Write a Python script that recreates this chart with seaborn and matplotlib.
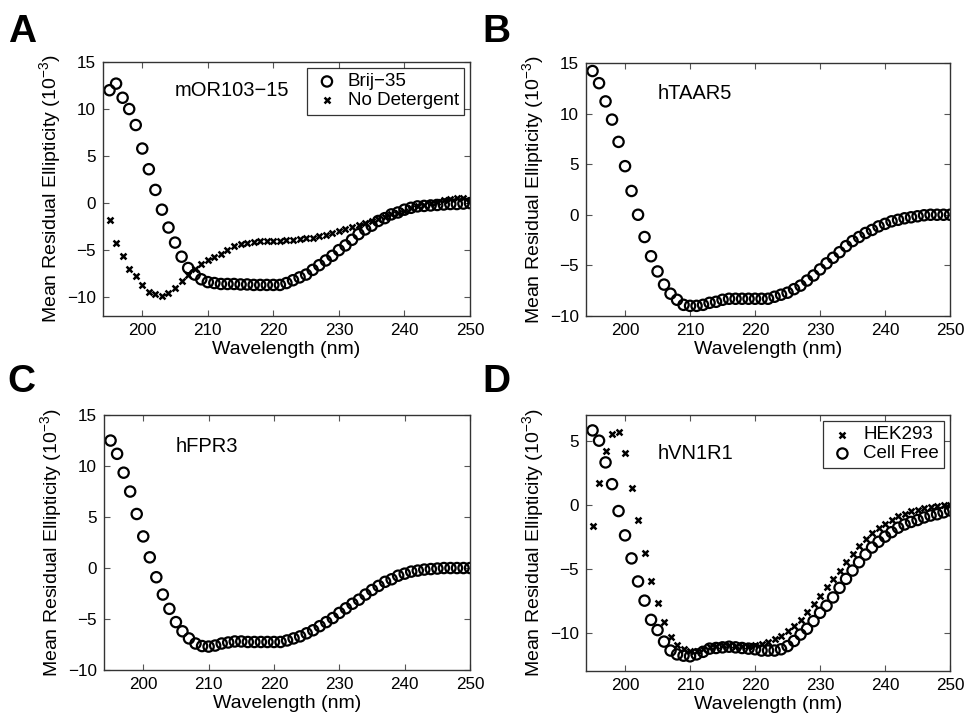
import numpy as np
import pandas as pd
import matplotlib
matplotlib.use("Agg")
import matplotlib.pyplot as plt
import seaborn as sns

# ---------------- data ----------------
wavelength = list(range(195, 251))

# Panel A: mOR103-15
brij35 = [12.0, 12.7, 11.2, 10.0, 8.3, 5.8, 3.6, 1.4, -0.7, -2.6,
          -4.2, -5.7, -6.9, -7.6, -8.1, -8.4, -8.5, -8.6, -8.6, -8.6,
          -8.65, -8.65, -8.7, -8.7, -8.7, -8.7, -8.7, -8.5, -8.2, -7.9,
          -7.6, -7.1, -6.6, -6.1, -5.6, -5.0, -4.5, -3.9, -3.3, -2.8,
          -2.4, -1.9, -1.6, -1.2, -1.0, -0.7, -0.5, -0.35, -0.3, -0.25,
          -0.2, -0.15, -0.1, -0.1, -0.05, 0.0]
no_detergent = [-1.8, -4.2, -5.6, -7.0, -7.8, -8.7, -9.4, -9.7, -9.9, -9.6,
                -9.0, -8.3, -7.6, -7.0, -6.5, -6.1, -5.7, -5.4, -5.0, -4.6,
                -4.4, -4.2, -4.1, -4.05, -4.05, -4.05, -4.0, -3.95, -3.9, -3.8,
                -3.75, -3.7, -3.5, -3.35, -3.2, -3.0, -2.75, -2.5, -2.3, -2.1,
                -1.9, -1.7, -1.5, -1.2, -1.0, -0.8, -0.55, -0.35, -0.2, 0.0,
                0.1, 0.3, 0.4, 0.5, 0.5, 0.2]

# Panel B: hTAAR5
htaar5 = [14.2, 13.0, 11.2, 9.4, 7.2, 4.8, 2.35, 0.0, -2.2, -4.1,
          -5.6, -6.9, -7.8, -8.4, -8.9, -9.0, -9.0, -8.9, -8.7, -8.6,
          -8.4, -8.3, -8.3, -8.3, -8.3, -8.3, -8.3, -8.3, -8.1, -7.9,
          -7.7, -7.35, -7.0, -6.5, -6.0, -5.4, -4.8, -4.25, -3.7, -3.1,
          -2.6, -2.2, -1.8, -1.5, -1.15, -0.9, -0.65, -0.5, -0.35, -0.25,
          -0.15, -0.05, 0.0, 0.0, 0.0, 0.0]

# Panel C: hFPR3
hfpr3 = [12.5, 11.2, 9.35, 7.5, 5.3, 3.1, 1.05, -0.9, -2.6, -4.0,
         -5.3, -6.2, -6.9, -7.4, -7.65, -7.7, -7.6, -7.4, -7.3, -7.2,
         -7.2, -7.25, -7.25, -7.25, -7.25, -7.25, -7.25, -7.1, -6.9, -6.7,
         -6.4, -6.1, -5.7, -5.3, -4.9, -4.4, -3.95, -3.5, -3.1, -2.6,
         -2.15, -1.75, -1.35, -1.1, -0.75, -0.55, -0.35, -0.25, -0.15, -0.1,
         -0.05, 0.0, 0.0, 0.0, 0.0, 0.0]

# Panel D: hVN1R1
hek293 = [-1.7, 1.7, 4.2, 5.5, 5.7, 4.0, 1.3, -1.2, -3.8, -6.0,
          -7.7, -9.2, -10.35, -11.0, -11.3, -11.4, -11.4, -11.25, -11.15, -11.05,
          -11.0, -11.0, -11.05, -11.05, -11.05, -11.0, -10.9, -10.7, -10.5, -10.3,
          -9.9, -9.5, -9.0, -8.4, -7.75, -7.1, -6.45, -5.8, -5.15, -4.45,
          -3.85, -3.25, -2.7, -2.2, -1.8, -1.5, -1.2, -0.9, -0.7, -0.5,
          -0.4, -0.25, -0.2, -0.1, -0.05, 0.0]
cell_free = [5.8, 5.0, 3.3, 1.6, -0.5, -2.4, -4.2, -6.0, -7.5, -9.0,
             -9.8, -10.7, -11.4, -11.7, -11.8, -11.85, -11.7, -11.5, -11.25, -11.2,
             -11.15, -11.1, -11.15, -11.2, -11.25, -11.3, -11.4, -11.4, -11.4, -11.3,
             -11.05, -10.65, -10.15, -9.7, -9.1, -8.45, -7.9, -7.25, -6.5, -5.8,
             -5.15, -4.5, -3.9, -3.35, -2.9, -2.5, -2.15, -1.8, -1.55, -1.35,
             -1.2, -1.0, -0.85, -0.75, -0.6, -0.45]

panel_letters = ["A", "B", "C", "D"]
panel_titles = ["mOR103\u221215", "hTAAR5", "hFPR3", "hVN1R1"]
x_label = "Wavelength (nm)"
y_label = "Mean Residual Ellipticity (10$^{\u22123}$)"
x_ticks = [200, 210, 220, 230, 240, 250]

# ---------------- style ----------------
sns.set_theme(style="white")
plt.rcParams["font.family"] = ["Liberation Sans", "DejaVu Sans"]
plt.rcParams["mathtext.fontset"] = "custom"
plt.rcParams["mathtext.rm"] = "Liberation Sans"
plt.rcParams["mathtext.it"] = "Liberation Sans:italic"
plt.rcParams["mathtext.bf"] = "Liberation Sans:bold"
plt.rcParams["axes.unicode_minus"] = True
plt.rcParams["text.color"] = "black"
plt.rcParams["axes.labelcolor"] = "black"

fig = plt.figure(figsize=(9.65, 7.16), dpi=100)
positions = [
    [0.1067, 0.5587, 0.3803, 0.3547],
    [0.6073, 0.5587, 0.3772, 0.3534],
    [0.1078, 0.0642, 0.3793, 0.3561],
    [0.6073, 0.0628, 0.3772, 0.3575],
]
axes = [fig.add_axes(p) for p in positions]

circ_kw = dict(marker="o", s=55, facecolor="none", edgecolor="black", linewidth=1.6)
x_kw = dict(marker="x", s=18, color="black", linewidth=1.8)

def frame(ax, ylim, yticks, text_y, title):
    ax.set_xlim(194, 250)
    ax.set_ylim(*ylim)
    ax.set_xticks(x_ticks)
    ax.set_yticks(yticks)
    ax.tick_params(direction="in", length=4, width=0.8, color="#555555",
                   top=True, right=True, bottom=True, left=True,
                   labelsize=12.3, pad=5, labelcolor="black")
    for sp in ax.spines.values():
        sp.set_visible(True)
        sp.set_color("#333333")
        sp.set_linewidth(1.0)
    ax.set_xlabel(x_label, fontsize=14, labelpad=2)
    ax.set_ylabel(y_label, fontsize=14, labelpad=3)
    ax.text(205, text_y, title, fontsize=14.5, va="center", ha="left")

def style_legend(ax):
    leg = ax.legend(loc="upper right", fontsize=13.5, frameon=True, fancybox=False,
                    borderaxespad=0.3, handletextpad=0.35, borderpad=0.3,
                    labelspacing=0.1, handlelength=1.5)
    leg.get_frame().set_edgecolor("black")
    leg.get_frame().set_linewidth(0.9)

# A
ax = axes[0]
dfa = pd.DataFrame({"w": wavelength, "brij": brij35, "nod": no_detergent})
sns.scatterplot(data=dfa, x="w", y="brij", ax=ax, label="Brij\u221235", **circ_kw)
sns.scatterplot(data=dfa, x="w", y="nod", ax=ax, label="No Detergent", **x_kw)
frame(ax, (-12, 15), [-10, -5, 0, 5, 10, 15], 12.0, panel_titles[0])
style_legend(ax)

# B
ax = axes[1]
dfb = pd.DataFrame({"w": wavelength, "v": htaar5})
sns.scatterplot(data=dfb, x="w", y="v", ax=ax, legend=False, **circ_kw)
frame(ax, (-10, 15), [-10, -5, 0, 5, 10, 15], 12.0, panel_titles[1])

# C
ax = axes[2]
dfc = pd.DataFrame({"w": wavelength, "v": hfpr3})
sns.scatterplot(data=dfc, x="w", y="v", ax=ax, legend=False, **circ_kw)
frame(ax, (-10, 15), [-10, -5, 0, 5, 10, 15], 11.9, panel_titles[2])

# D
ax = axes[3]
dfd = pd.DataFrame({"w": wavelength, "hek": hek293, "cf": cell_free})
sns.scatterplot(data=dfd, x="w", y="hek", ax=ax, label="HEK293", **x_kw)
sns.scatterplot(data=dfd, x="w", y="cf", ax=ax, label="Cell Free", **circ_kw)
frame(ax, (-13, 7), [-10, -5, 0, 5], 4.0, panel_titles[3])
style_legend(ax)

# panel letters
letter_pos = [(0.008, 0.941), (0.500, 0.941), (0.008, 0.452), (0.500, 0.452)]
for (lx, ly), letter in zip(letter_pos, panel_letters):
    fig.text(lx, ly, letter, fontsize=28, fontweight="bold", ha="left", va="baseline")

fig.savefig("out.png", dpi=100)
